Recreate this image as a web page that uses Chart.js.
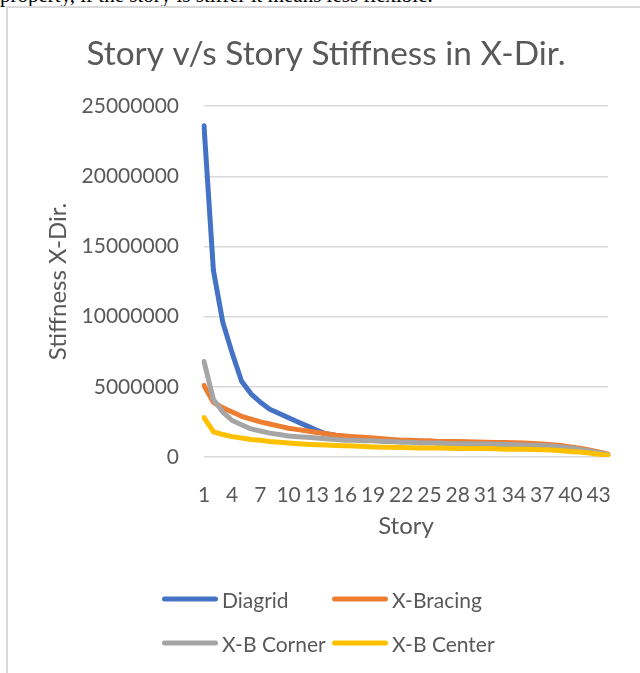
<!DOCTYPE html>
<html lang="en">
<head>
<meta charset="UTF-8" />
<title>Story v/s Story Stiffness in X-Dir.</title>
<script src="https://cdn.jsdelivr.net/npm/chart.js"></script>
<style>
  body {
    margin: 0;
    width: 640px;
    height: 673px;
    overflow: hidden;
    background: #fff;
    position: relative;
    font-family: Lato, sans-serif;
  }
  /* tail of the paragraph above the chart, cut off by the crop */
  .cut {
    position: absolute;
    left: 0;
    top: -17px;
    font-family: "Liberation Serif", serif;
    font-size: 21px;
    white-space: nowrap;
    color: #000;
  }
  .frame {
    position: absolute;
    left: 6px;
    top: 6px;
    width: 640px;
    height: 700px;
    border-left: 2px solid #d9d9d9;
    border-top: 2px solid #d9d9d9;
  }
  #wrap {
    position: absolute;
    left: 0;
    top: 0;
    width: 640px;
    height: 673px;
  }
  .leg {
    position: absolute;
    display: flex;
    align-items: center;
    transform: translateY(-50%);
    font-size: 21px;
    color: #595959;
    white-space: nowrap;
  }
  .leg i {
    display: inline-block;
    width: 56px;
    height: 5px;
    border-radius: 3px;
    margin-right: 4px;
  }
</style>
</head>
<body>
  <div class="cut">property, if the story is stiffer it means less flexible.</div>
  <div class="frame"></div>
  <div id="wrap"><canvas id="chart" width="640" height="673"></canvas></div>
  <div id="legend"></div>

<script>
const stories = Array.from({ length: 44 }, (_, i) => String(i + 1));

const diagrid = [
  23600000, 13300000, 9600000, 7400000, 5400000, 4500000, 3900000, 3400000, 3100000, 2800000,
  2500000, 2200000, 1900000, 1650000, 1550000, 1450000, 1350000, 1300000, 1250000, 1200000,
  1150000, 1100000, 1100000, 1050000, 1050000, 1000000, 1000000, 1000000, 950000, 950000,
  950000, 900000, 900000, 900000, 850000, 850000, 800000, 750000, 700000, 600000,
  500000, 400000, 300000, 150000
];
const xBracing = [
  5100000, 3900000, 3500000, 3200000, 2900000, 2700000, 2500000, 2350000, 2200000, 2050000,
  1950000, 1850000, 1750000, 1650000, 1550000, 1500000, 1450000, 1400000, 1350000, 1300000,
  1250000, 1200000, 1200000, 1150000, 1150000, 1100000, 1100000, 1100000, 1080000, 1060000,
  1050000, 1040000, 1030000, 1020000, 1000000, 960000, 920000, 880000, 820000, 720000,
  620000, 500000, 360000, 200000
];
const xbCorner = [
  6800000, 4100000, 3200000, 2600000, 2300000, 2000000, 1850000, 1700000, 1600000, 1500000,
  1450000, 1400000, 1350000, 1300000, 1250000, 1200000, 1200000, 1150000, 1150000, 1100000,
  1100000, 1050000, 1050000, 1000000, 1000000, 1000000, 950000, 950000, 950000, 920000,
  920000, 900000, 900000, 880000, 860000, 840000, 820000, 780000, 720000, 640000,
  540000, 430000, 310000, 170000
];
const xbCenter = [
  2800000, 1800000, 1600000, 1450000, 1350000, 1250000, 1200000, 1100000, 1050000, 1000000,
  950000, 900000, 880000, 850000, 820000, 800000, 780000, 750000, 720000, 700000,
  700000, 680000, 660000, 650000, 650000, 640000, 620000, 600000, 600000, 600000,
  600000, 580000, 560000, 550000, 550000, 540000, 520000, 500000, 450000, 400000,
  350000, 280000, 200000, 120000
];
const yTicks = [0, 5000000, 10000000, 15000000, 20000000, 25000000];

const seriesNames = ["Diagrid", "X-Bracing", "X-B Corner", "X-B Center"];
const seriesData = [diagrid, xBracing, xbCorner, xbCenter];
const colors = ["#4472C4", "#ED7D31", "#A5A5A5", "#FFC000"];

const textColor = "#595959";
const font = "Lato, sans-serif";

// legend in two columns like the Excel chart
const legendPos = [[162, 599], [332, 599], [162, 643], [332, 643]];
const legendEl = document.getElementById("legend");
seriesNames.forEach((name, i) => {
  const d = document.createElement("div");
  d.className = "leg";
  d.style.left = legendPos[i][0] + "px";
  d.style.top = legendPos[i][1] + "px";
  d.innerHTML = '<i style="background:' + colors[i] + '"></i>' + name;
  legendEl.appendChild(d);
});

new Chart(document.getElementById("chart"), {
  type: "line",
  data: {
    labels: stories,
    datasets: seriesNames.map((name, i) => ({
      label: name,
      data: seriesData[i],
      borderColor: colors[i],
      backgroundColor: colors[i],
      borderWidth: 5,
      pointRadius: 0,
      tension: 0,
      borderCapStyle: "round",
      borderJoinStyle: "round",
      order: seriesNames.length - i, // last series on top
    })),
  },
  options: {
    responsive: false,
    animation: false,
    layout: { padding: { left: 44, right: 32, top: 0, bottom: 100 } },
    plugins: {
      legend: { display: false },
      tooltip: { enabled: false },
      title: {
        display: true,
        text: "Story v/s Story Stiffness in X-Dir.",
        color: textColor,
        font: { family: font, size: 33.4, weight: "normal" },
        padding: { top: 34, bottom: 32 },
      },
    },
    scales: {
      x: {
        offset: false,
        grid: { display: false },
        border: { display: false },
        ticks: {
          autoSkip: false,
          maxRotation: 0,
          padding: 18,
          color: textColor,
          font: { family: font, size: 21 },
          callback: (v, i) => (i % 3 === 0 ? stories[i] : ""),
        },
        title: {
          display: true,
          text: "Story",
          color: textColor,
          font: { family: font, size: 24 },
          padding: { top: 0, bottom: 32 },
        },
        afterFit: (s) => { s.height = 116; },
      },
      y: {
        min: yTicks[0],
        max: yTicks[yTicks.length - 1],
        afterBuildTicks: (s) => { s.ticks = yTicks.map((v) => ({ value: v })); },
        grid: { color: "#d9d9d9", lineWidth: 1.5, drawTicks: false },
        border: { display: false },
        ticks: {
          padding: 25,
          color: textColor,
          font: { family: font, size: 21 },
          callback: (v) => String(v),
        },
        title: {
          display: true,
          text: "Stiffness X-Dir.",
          color: textColor,
          font: { family: font, size: 24 },
          padding: { top: 0, bottom: 0 },
        },
        afterFit: (s) => { s.width = 160; },
      },
    },
  },
});
</script>
</body>
</html>
